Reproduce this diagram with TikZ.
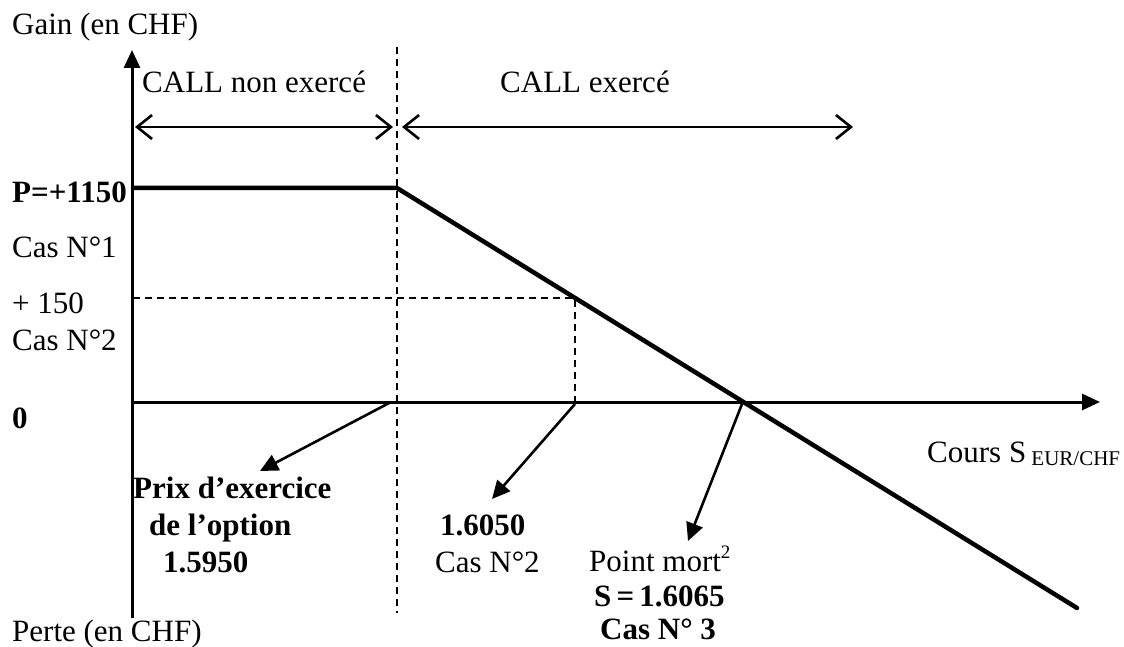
\documentclass[tikz,border=0pt]{standalone}
\usepackage{fontspec}
\setmainfont{Liberation Serif}
\usetikzlibrary{arrows.meta}
\begin{document}
\begin{tikzpicture}[x=1pt,y=-1pt,
  lbl/.style={anchor=base west,inner sep=0pt,font=\fontsize{31}{36}\selectfont},
  blbl/.style={lbl,font=\fontsize{31}{36}\selectfont\bfseries},
  axis/.style={line width=3pt,-{Triangle[length=18pt,width=16pt]}},
  payoff/.style={line width=4.5pt,line cap=round,line join=miter},
  guide/.style={line width=2pt,dash pattern=on 7pt off 5pt},
  span/.style={line width=2.6pt,{Straight Barb[length=15pt,width=24pt,line width=2.6pt]}-{Straight Barb[length=15pt,width=24pt,line width=2.6pt]}},
  callout/.style={line width=2.6pt,-{Triangle[length=18pt,width=17pt]}}]
\useasboundingbox (0,0) rectangle (1124,647);

% axes
\coordinate (O) at (132,402);
\coordinate (ytop) at (132,50);
\coordinate (ybot) at (132,618);
\coordinate (xend) at (1100,402);
\draw[axis] (ybot) -- (ytop);
\draw[axis] (131,402) coordinate (xstart) -- (xend);

% strike and auxiliary guides
\coordinate (Ktop) at (397,47);
\coordinate (Kbot) at (397,613);
\draw[guide] (Ktop) -- (Kbot);
\coordinate (g150) at (133,298);
\coordinate (c2) at (575,298);
\coordinate (c2x) at (575,402);
\draw[guide] (g150) -- (c2) -- (c2x);

% profit / loss line
\coordinate (p0) at (133,188);
\coordinate (pk) at (397,188);
\coordinate (pend) at (1077,608);
\draw[payoff] (p0) -- (pk) -- (pend);

% exercise zones
\coordinate (a1) at (135,127);
\coordinate (a2) at (393,127);
\coordinate (b1) at (402,127);
\coordinate (b2) at (853,127);
\draw[span] (a1) -- (a2);
\draw[span] (b1) -- (b2);

% labels
\node[lbl] (gain) at (12,35) {Gain (en CHF)};
\node[lbl] (perte) at (12,641) {Perte (en CHF)};
\node[lbl] (nonex) at (142,93) {CALL non exercé};
\node[lbl] (ex) at (500,93) {CALL exercé};
\node[blbl] (prime) at (12,203) {P=+1150};
\node[lbl] (cas1) at (12,257) {Cas N°1};
\node[lbl] (v150) at (12,313) {+ 150};
\node[lbl] (cas2l) at (12,350) {Cas N°2};
\node[blbl] (zero) at (12,428) {0};
\node[lbl] (cours) at (927,462) {Cours S\,\raisebox{-3pt}{\fontsize{21}{24}\selectfont EUR/CHF}};

\node[blbl] (prix1) at (133,498) {Prix d’exercice};
\node[blbl] (prix2) at (149,535) {de l’option};
\node[blbl] (prix3) at (163,572) {1.5950};

\node[blbl] (s2) at (440,535) {1.6050};
\node[lbl] (cas2) at (435,572) {Cas N°2};

\node[lbl] (pm) at (589,571) {Point mort\raisebox{13pt}{\fontsize{19}{22}\selectfont 2}};
\node[blbl] (pms) at (594,606) {S\,=\,1.6065};
\node[blbl] (pmc) at (600,639) {Cas N° 3};

% callouts
\coordinate (k0) at (391,402);
\coordinate (k1) at (260,471);
\draw[callout] (k0) -- (k1);
\coordinate (m0) at (575,404);
\coordinate (m1) at (492,499);
\draw[callout] (m0) -- (m1);
\coordinate (n0) at (742,404);
\coordinate (n1) at (688,541);
\draw[callout] (n0) -- (n1);
\end{tikzpicture}
\end{document}
